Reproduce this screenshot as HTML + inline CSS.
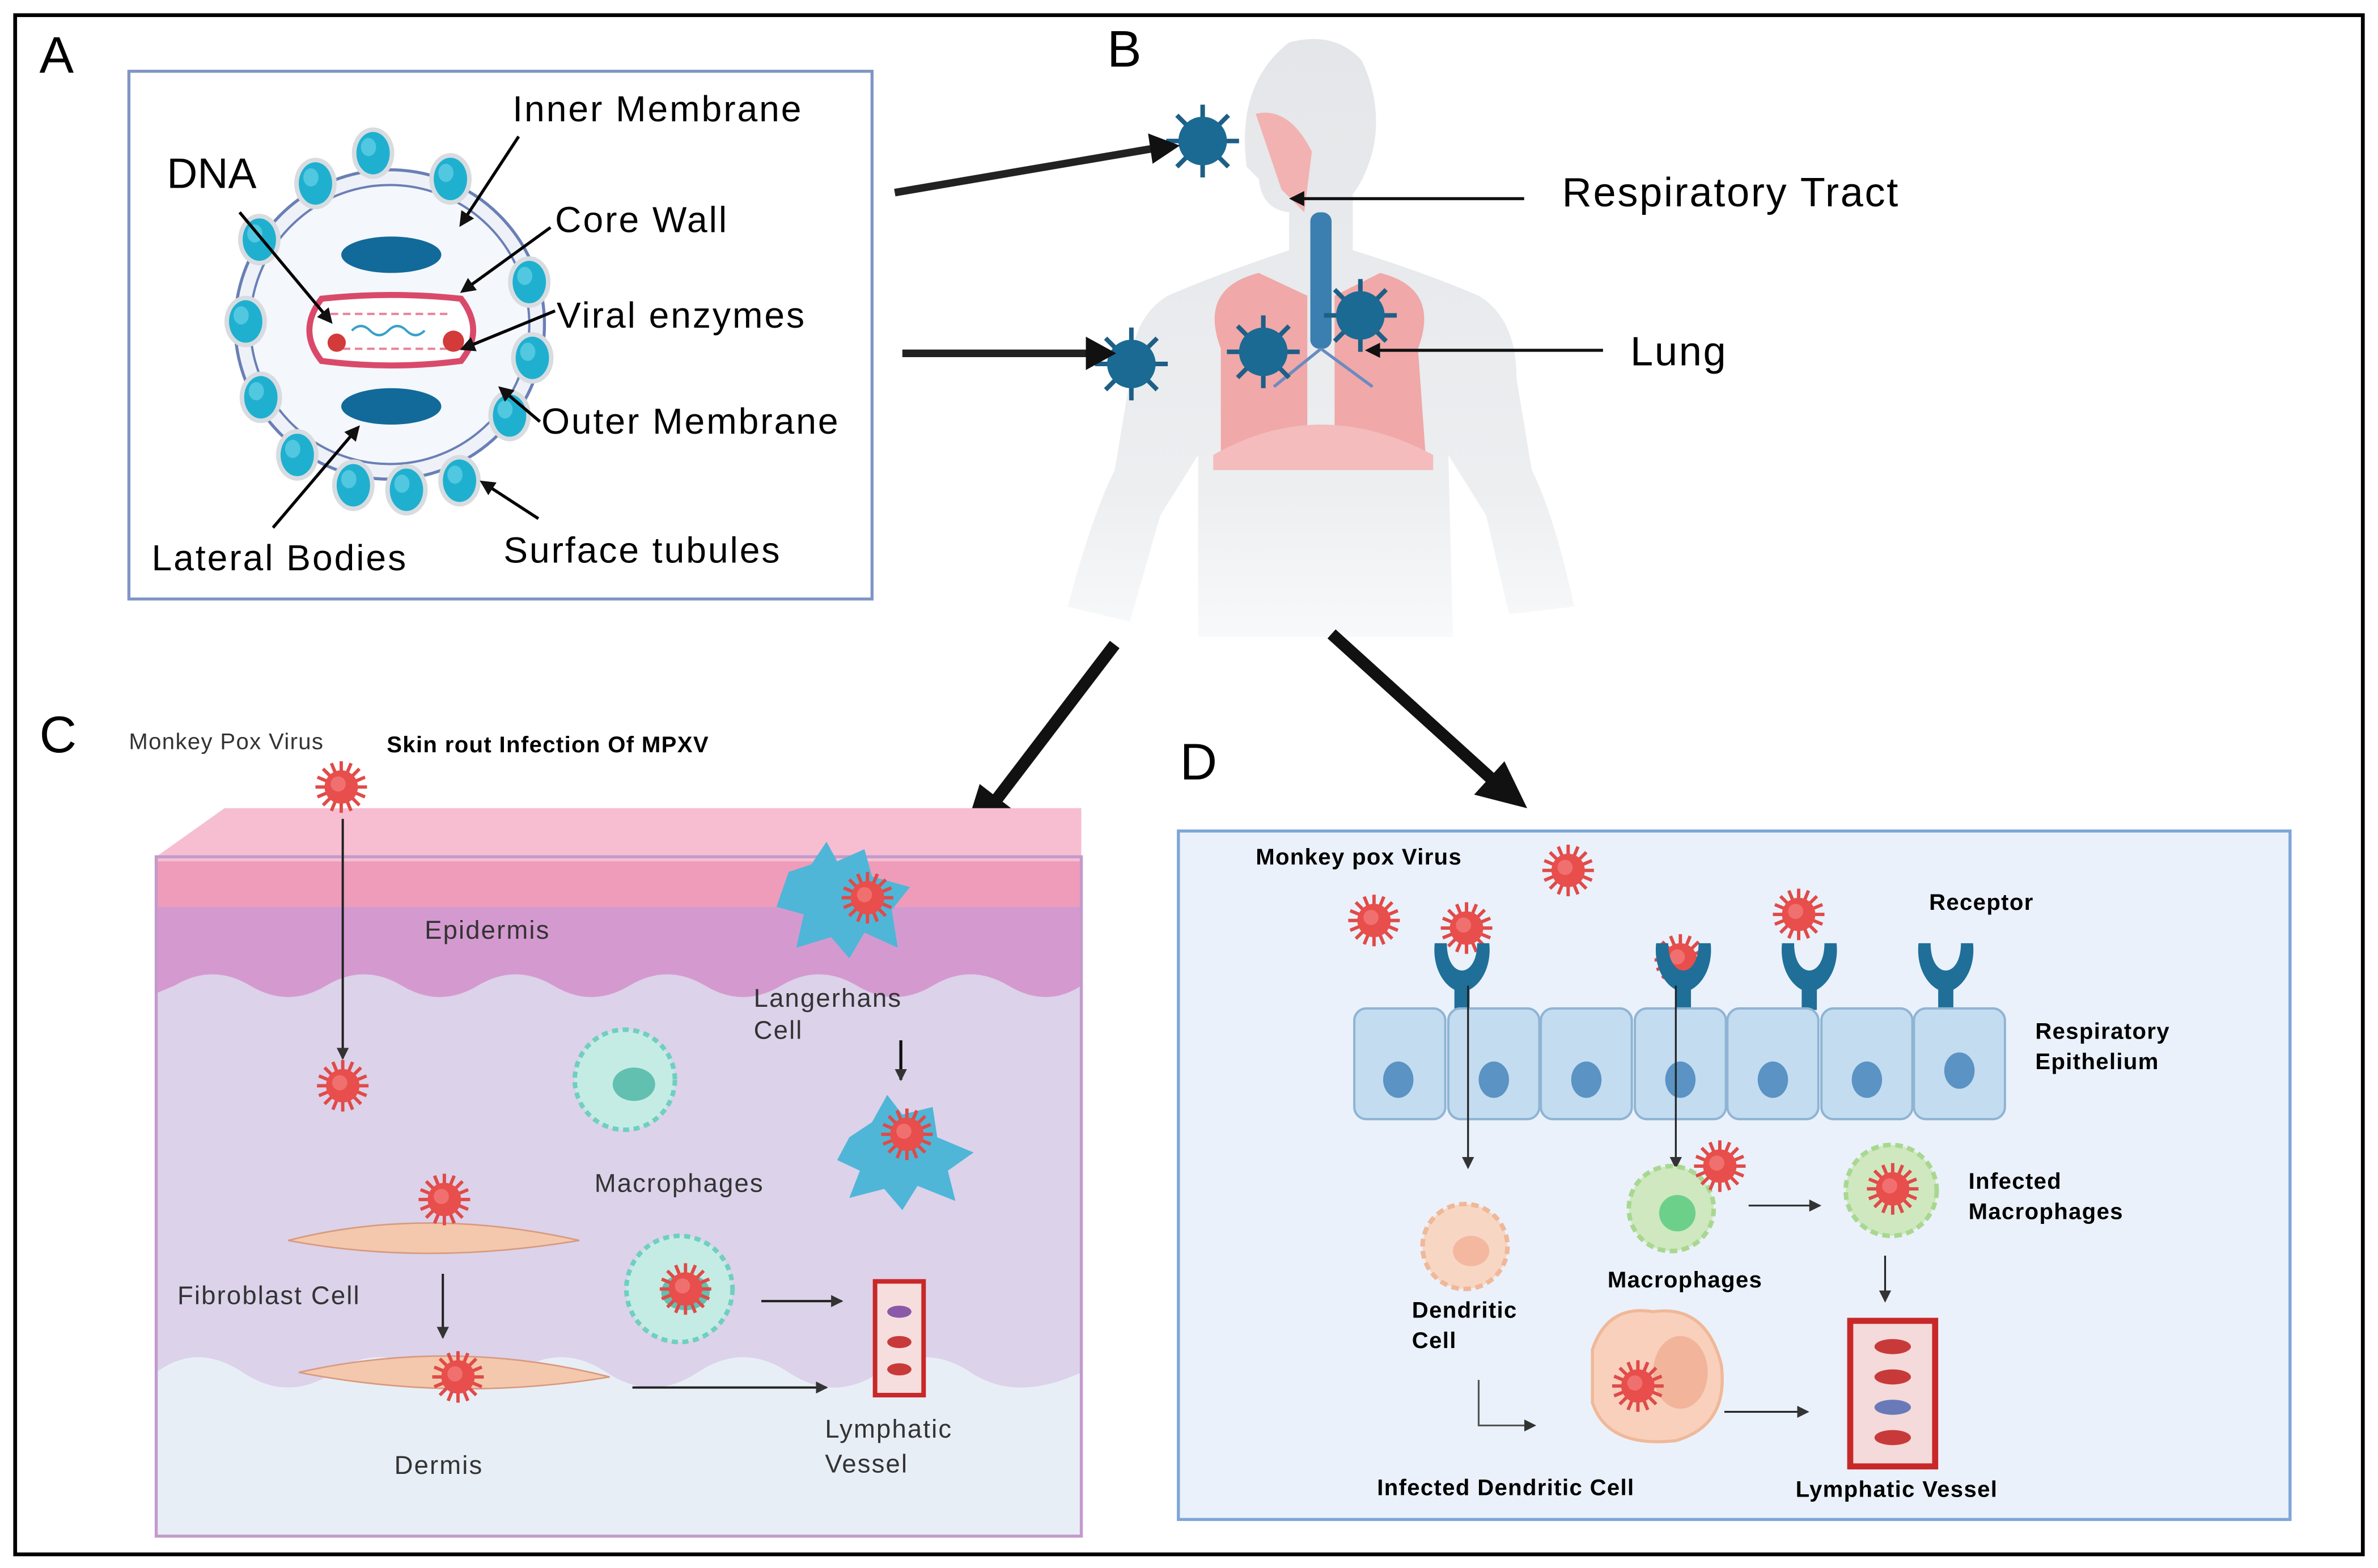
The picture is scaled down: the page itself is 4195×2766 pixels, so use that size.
<!DOCTYPE html>
<html><head><meta charset="utf-8"><style>
html,body{margin:0;padding:0;background:#fff}
svg{display:block}
text{font-family:"Liberation Sans",sans-serif}
.a{letter-spacing:1.1px}
.c{letter-spacing:0.8px}
.d{letter-spacing:0.5px}
</style></head><body>
<svg width="4195" height="2766" viewBox="0 0 1568 1034" preserveAspectRatio="none" xmlns="http://www.w3.org/2000/svg">
<defs>
<g id="rv">
<g stroke="#e04a48" stroke-width="2.2">
<line x1="0" y1="-17" x2="0" y2="17"/><line x1="-17" y1="0" x2="17" y2="0"/>
<line x1="-12" y1="-12" x2="12" y2="12"/><line x1="-12" y1="12" x2="12" y2="-12"/>
<line x1="-6.5" y1="-15.7" x2="6.5" y2="15.7"/><line x1="6.5" y1="-15.7" x2="-6.5" y2="15.7"/>
<line x1="-15.7" y1="-6.5" x2="15.7" y2="6.5"/><line x1="-15.7" y1="6.5" x2="15.7" y2="-6.5"/>
</g>
<circle r="11" fill="#e84e4b"/><circle r="5" cx="-2" cy="-2" fill="#f07070"/>
</g>
<g id="bv">
<g stroke="#1d5f86" stroke-width="3">
<line x1="0" y1="-24" x2="0" y2="24"/><line x1="-24" y1="0" x2="24" y2="0"/>
<line x1="-17" y1="-17" x2="17" y2="17"/><line x1="-17" y1="17" x2="17" y2="-17"/>
</g>
<circle r="16" fill="#1a6a93"/>
</g>
<g id="tub"><ellipse rx="14" ry="17" fill="#d8dce0"/><ellipse rx="11" ry="14" fill="#1fb0d0"/><ellipse rx="5" ry="6" cx="-3" cy="-4" fill="#52c7e0"/></g>
<g id="rec"><path d="M-18,-18 C-20,2 -8,14 0,14 C8,14 20,2 18,-18 L10,-18 C10,-6 5,0 0,0 C-5,0 -10,-6 -10,-18 Z" fill="#1f6f99"/><rect x="-5" y="12" width="10" height="14" fill="#1f6f99"/></g>
<marker id="ah" markerWidth="10" markerHeight="10" refX="8" refY="5" orient="auto" markerUnits="userSpaceOnUse"><path d="M0,0 L10,5 L0,10 Z" fill="#111"/></marker>
<marker id="ahs" markerWidth="8" markerHeight="8" refX="7" refY="4" orient="auto" markerUnits="userSpaceOnUse"><path d="M0,0 L8,4 L0,8 Z" fill="#333"/></marker>
<linearGradient id="bodyg" x1="0" y1="0" x2="0" y2="1"><stop offset="0" stop-color="#e4e6e9"/><stop offset="0.75" stop-color="#eceef0"/><stop offset="1" stop-color="#f8f9fa"/></linearGradient>
</defs>
<rect x="0" y="0" width="1568" height="1034" fill="#fff"/>
<rect x="10" y="10" width="1548" height="1015" fill="none" stroke="#000" stroke-width="2.5"/>

<text x="26" y="48" font-size="34">A</text>
<text x="730" y="44" font-size="34">B</text>
<text x="26" y="496" font-size="34">C</text>
<text x="778" y="514" font-size="34">D</text>

<!-- Panel A -->
<rect x="85" y="47" width="490" height="348" fill="#fff" stroke="#8096c4" stroke-width="2"/>
<circle cx="257" cy="214" r="102" fill="#eef2f8" stroke="#6a7fb5" stroke-width="2"/>
<circle cx="257" cy="214" r="92" fill="#f4f7fb" stroke="#6a7fb5" stroke-width="1.5"/>
<g>
<use href="#tub" x="246" y="101"/><use href="#tub" x="297" y="118"/><use href="#tub" x="208" y="121"/>
<use href="#tub" x="171" y="158"/><use href="#tub" x="349" y="186"/><use href="#tub" x="162" y="212"/>
<use href="#tub" x="351" y="236"/><use href="#tub" x="172" y="262"/><use href="#tub" x="336" y="274"/>
<use href="#tub" x="196" y="300"/><use href="#tub" x="233" y="320"/><use href="#tub" x="268" y="323"/><use href="#tub" x="303" y="317"/>
</g>
<ellipse cx="258" cy="168" rx="33" ry="12" fill="#126a9a"/>
<ellipse cx="258" cy="268" rx="33" ry="12" fill="#126a9a"/>
<path d="M212,197 Q258,192 304,197 Q320,218 304,238 Q258,244 212,238 Q196,218 212,197 Z" fill="#fff" stroke="#d94a6a" stroke-width="4"/>
<path d="M218,207 H298 M218,230 H298" stroke="#e8829a" stroke-width="1.5" stroke-dasharray="5,3"/>
<path d="M232,218 q6,-6 12,0 t12,0 t12,0 t12,0" stroke="#3aa0c8" fill="none" stroke-width="1.5"/>
<circle cx="222" cy="226" r="6" fill="#d33a3a"/><circle cx="299" cy="225" r="7" fill="#d33a3a"/>
<g stroke="#000" stroke-width="2" fill="none" marker-end="url(#ah)">
<line x1="342" y1="90" x2="304" y2="148"/>
<line x1="363" y1="150" x2="305" y2="192"/>
<line x1="366" y1="205" x2="305" y2="230"/>
<line x1="356" y1="278" x2="330" y2="256"/>
<line x1="355" y1="342" x2="318" y2="318"/>
<line x1="158" y1="140" x2="218" y2="212"/>
<line x1="180" y1="348" x2="236" y2="282"/>
</g>
<text class="a" x="338" y="80" font-size="24">Inner Membrane</text>
<text x="110" y="124" font-size="28">DNA</text>
<text class="a" x="366" y="153" font-size="24">Core Wall</text>
<text class="a" x="367" y="216" font-size="24">Viral enzymes</text>
<text class="a" x="357" y="286" font-size="24">Outer  Membrane</text>
<text class="a" x="100" y="376" font-size="24">Lateral Bodies</text>
<text class="a" x="332" y="371" font-size="24">Surface tubules</text>

<!-- Panel B body -->
<path d="M850,28 Q880,20 898,40 Q912,70 905,100 Q900,118 892,128 L892,165 Q940,180 975,195 Q1000,210 1000,250 L1010,310 Q1025,340 1038,400 L995,405 L980,340 L955,300 L958,420 L790,420 L790,300 L765,340 L745,410 L704,400 Q720,340 735,310 L745,250 Q745,210 770,195 Q805,180 850,165 L850,140 Q832,138 830,118 L822,110 Q815,55 850,28 Z" fill="url(#bodyg)"/>
<path d="M805,230 Q790,190 830,180 L862,195 L862,300 L805,300 Z" fill="#f0a8a8"/>
<path d="M935,230 Q950,190 910,180 L880,195 L880,300 L940,300 Z" fill="#f0a8a8"/>
<path d="M800,300 Q870,260 945,300 L945,310 L800,310 Z" fill="#f4bcbc"/>
<rect x="864" y="140" width="14" height="90" rx="6" fill="#3a7fb0"/>
<path d="M828,75 Q850,70 865,100 L860,140 L845,125 Z" fill="#f2b2b2"/>
<path d="M871,230 L840,255 M871,230 L905,255" stroke="#6a8bc0" stroke-width="2"/>
<use href="#bv" x="793" y="93"/>
<use href="#bv" x="746" y="240"/>
<use href="#bv" x="833" y="232"/>
<use href="#bv" x="897" y="208"/>
<path d="M590,127 L760,98" stroke="#222" stroke-width="5"/>
<path d="M757,88 L778,96 L760,108 Z" fill="#111"/>
<path d="M595,233 L718,233" stroke="#222" stroke-width="5"/>
<path d="M716,222 L736,233 L716,244 Z" fill="#111"/>
<line x1="1005" y1="131" x2="852" y2="131" stroke="#111" stroke-width="2" marker-end="url(#ah)"/>
<line x1="1057" y1="231" x2="902" y2="231" stroke="#111" stroke-width="2" marker-end="url(#ah)"/>
<text x="1030" y="136" font-size="27" style="letter-spacing:1px">Respiratory Tract</text>
<text x="1075" y="241" font-size="27" style="letter-spacing:1px">Lung</text>
<path d="M735,425 L655,530" stroke="#111" stroke-width="8"/>
<path d="M635,552 L646,517 L668,534 Z" fill="#111"/>
<path d="M878,418 L985,515" stroke="#111" stroke-width="8"/>
<path d="M1007,533 L972,524 L992,502 Z" fill="#111"/>

<!-- Panel C -->
<path d="M103,565 L148,533 L713,533 L713,1013 L103,1013 Z" fill="#dcd2ea"/>
<path d="M103,565 L148,533 L713,533 L713,568 L103,568 Z" fill="#f7bed2"/>
<rect x="103" y="568" width="610" height="30" fill="#ee9cb9"/>
<path d="M103,598 H713 V650 Q690,665 665,650 T615,650 T565,650 T515,650 T465,650 T415,650 T365,650 T315,650 T265,650 T215,650 T165,650 T115,650 L103,655 Z" fill="#d49ad0"/>
<path d="M103,905 Q130,885 160,905 T220,905 T280,905 T340,905 T400,905 T460,905 T520,905 T580,905 T640,905 T713,905 V1013 H103 Z" fill="#e8eef6"/>
<rect x="103" y="565" width="610" height="448" fill="none" stroke="#c39acb" stroke-width="2"/>
<text class="d" x="85" y="494" font-size="15" fill="#333">Monkey Pox Virus</text>
<text class="d" x="255" y="496" font-size="15" font-weight="bold">Skin rout Infection Of MPXV</text>
<use href="#rv" x="225" y="519"/>
<line x1="226" y1="540" x2="226" y2="698" stroke="#222" stroke-width="1.5" marker-end="url(#ahs)"/>
<use href="#rv" x="226" y="716"/>
<text class="c" x="280" y="619" font-size="17" fill="#333">Epidermis</text>
<path d="M520,575 L535,570 L545,555 L552,568 L570,560 L575,578 L600,585 L588,600 L592,625 L570,615 L560,632 L548,618 L525,625 L530,603 L512,598 Z" fill="#4fb6d8"/>
<use href="#rv" x="572" y="592"/>
<text class="c" x="497" y="664" font-size="17" fill="#333">Langerhans</text>
<text class="c" x="497" y="685" font-size="17" fill="#333">Cell</text>
<line x1="594" y1="686" x2="594" y2="712" stroke="#111" stroke-width="2" marker-end="url(#ahs)"/>
<path d="M560,750 L575,740 L585,722 L595,735 L615,730 L618,750 L642,760 L625,772 L630,792 L605,782 L595,798 L583,784 L560,790 L567,772 L552,765 Z" fill="#4fb6d8"/>
<use href="#rv" x="598" y="748"/>
<circle cx="412" cy="712" r="33" fill="#c5ece4" stroke="#6fcfc0" stroke-width="3" stroke-dasharray="4,3"/>
<ellipse cx="418" cy="715" rx="14" ry="11" fill="#62c0b0"/>
<text class="c" x="392" y="786" font-size="17" fill="#333">Macrophages</text>
<path d="M190,818 Q280,795 382,818 Q280,835 190,818 Z" fill="#f4c8ac" stroke="#d89a80"/>
<use href="#rv" x="293" y="791"/>
<text class="c" x="117" y="860" font-size="17" fill="#333">Fibroblast Cell</text>
<line x1="292" y1="840" x2="292" y2="882" stroke="#222" stroke-width="1.5" marker-end="url(#ahs)"/>
<path d="M197,905 Q300,882 402,908 Q300,925 197,905 Z" fill="#f4c8ac" stroke="#d89a80"/>
<use href="#rv" x="302" y="908"/>
<circle cx="448" cy="850" r="35" fill="#c5ece4" stroke="#6fcfc0" stroke-width="3" stroke-dasharray="4,3"/>
<ellipse cx="452" cy="852" rx="16" ry="12" fill="#62c0b0"/>
<use href="#rv" x="452" y="850"/>
<line x1="502" y1="858" x2="555" y2="858" stroke="#222" stroke-width="1.5" marker-end="url(#ahs)"/>
<line x1="417" y1="915" x2="545" y2="915" stroke="#222" stroke-width="1.5" marker-end="url(#ahs)"/>
<rect x="577" y="845" width="32" height="75" fill="#f6dede" stroke="#c82828" stroke-width="3"/>
<ellipse cx="593" cy="865" rx="8" ry="4" fill="#8a5aa8"/><ellipse cx="593" cy="885" rx="8" ry="4" fill="#c83a3a"/><ellipse cx="593" cy="903" rx="8" ry="4" fill="#c83a3a"/>
<text class="c" x="544" y="948" font-size="17" fill="#333">Lymphatic</text>
<text class="c" x="544" y="971" font-size="17" fill="#333">Vessel</text>
<text class="c" x="260" y="972" font-size="17" fill="#333">Dermis</text>

<!-- Panel D -->
<rect x="777" y="548" width="733" height="454" fill="#eaf1fa" stroke="#7da6d8" stroke-width="2"/>
<text class="d" x="828" y="570" font-size="15" font-weight="bold">Monkey pox Virus</text>
<use href="#rv" x="1034" y="574"/>
<use href="#rv" x="906" y="607"/>
<use href="#rv" x="967" y="612"/>
<use href="#rv" x="1186" y="603"/>
<use href="#rv" x="1108" y="633"/>
<text class="d" x="1272" y="600" font-size="15" font-weight="bold">Receptor</text>
<use href="#rec" x="964" y="640"/><use href="#rec" x="1110" y="640"/><use href="#rec" x="1193" y="640"/><use href="#rec" x="1283" y="640"/>
<g fill="#c4dcef" stroke="#8fb4d4" stroke-width="1.5">
<rect x="893" y="665" width="60" height="73" rx="8"/><rect x="955" y="665" width="60" height="73" rx="8"/>
<rect x="1016" y="665" width="60" height="73" rx="8"/><rect x="1078" y="665" width="60" height="73" rx="8"/>
<rect x="1139" y="665" width="60" height="73" rx="8"/><rect x="1201" y="665" width="60" height="73" rx="8"/>
<rect x="1262" y="665" width="60" height="73" rx="8"/>
</g>
<g fill="#5a93c4"><ellipse cx="922" cy="712" rx="10" ry="12"/><ellipse cx="985" cy="712" rx="10" ry="12"/><ellipse cx="1046" cy="712" rx="10" ry="12"/><ellipse cx="1108" cy="712" rx="10" ry="12"/><ellipse cx="1169" cy="712" rx="10" ry="12"/><ellipse cx="1231" cy="712" rx="10" ry="12"/><ellipse cx="1292" cy="706" rx="10" ry="12"/></g>
<text class="d" x="1342" y="685" font-size="15" font-weight="bold">Respiratory</text>
<text class="d" x="1342" y="705" font-size="15" font-weight="bold">Epithelium</text>
<line x1="968" y1="650" x2="968" y2="770" stroke="#222" stroke-width="1.2" marker-end="url(#ahs)"/>
<line x1="1105" y1="650" x2="1105" y2="770" stroke="#222" stroke-width="1.2" marker-end="url(#ahs)"/>
<circle cx="966" cy="822" r="28" fill="#f8d6c4" stroke="#f0b898" stroke-width="3" stroke-dasharray="5,3"/>
<ellipse cx="970" cy="825" rx="12" ry="10" fill="#f4b8a0"/>
<text class="d" x="931" y="869" font-size="15" font-weight="bold">Dendritic</text>
<text class="d" x="931" y="889" font-size="15" font-weight="bold">Cell</text>
<circle cx="1102" cy="797" r="28" fill="#cfe8c0" stroke="#a8d890" stroke-width="3" stroke-dasharray="5,3"/>
<circle cx="1106" cy="800" r="12" fill="#6cd08a"/>
<use href="#rv" x="1134" y="769"/>
<text class="d" x="1060" y="849" font-size="15" font-weight="bold">Macrophages</text>
<line x1="1153" y1="795" x2="1200" y2="795" stroke="#333" stroke-width="1.2" marker-end="url(#ahs)"/>
<circle cx="1247" cy="785" r="30" fill="#cfe8c0" stroke="#a8d890" stroke-width="3" stroke-dasharray="5,3"/>
<use href="#rv" x="1248" y="784"/>
<text class="d" x="1298" y="784" font-size="15" font-weight="bold">Infected</text>
<text class="d" x="1298" y="804" font-size="15" font-weight="bold">Macrophages</text>
<line x1="1243" y1="828" x2="1243" y2="858" stroke="#222" stroke-width="1.2" marker-end="url(#ahs)"/>
<path d="M975,910 V940 H1012" stroke="#555" stroke-width="1.2" fill="none" marker-end="url(#ahs)"/>
<path d="M1050,890 Q1060,860 1090,865 Q1125,860 1135,900 Q1140,940 1105,950 Q1060,955 1050,925 Z" fill="#f8d0bc" stroke="#f0b898" stroke-width="2"/>
<ellipse cx="1108" cy="905" rx="18" ry="24" fill="#f2b49a"/>
<use href="#rv" x="1080" y="914"/>
<line x1="1137" y1="931" x2="1192" y2="931" stroke="#222" stroke-width="1.2" marker-end="url(#ahs)"/>
<rect x="1220" y="871" width="56" height="96" fill="#f4dada" stroke="#c82828" stroke-width="4"/>
<g fill="#c83a3a"><ellipse cx="1248" cy="888" rx="12" ry="5"/><ellipse cx="1248" cy="908" rx="12" ry="5"/><ellipse cx="1248" cy="928" rx="12" ry="5" fill="#6a7ab8"/><ellipse cx="1248" cy="948" rx="12" ry="5"/></g>
<text class="d" x="908" y="986" font-size="15" font-weight="bold">Infected Dendritic Cell</text>
<text class="d" x="1184" y="987" font-size="15" font-weight="bold">Lymphatic Vessel</text>
</svg>
</body></html>
